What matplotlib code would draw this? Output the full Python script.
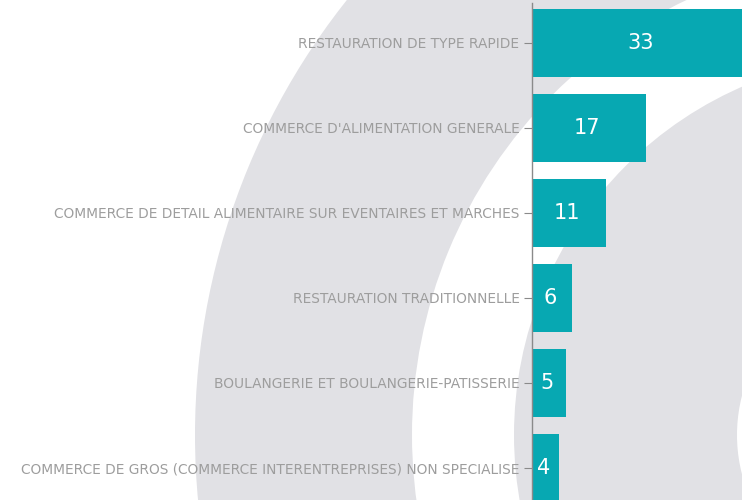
import numpy as np
import matplotlib
matplotlib.use("Agg")
import matplotlib.pyplot as plt
from matplotlib.patches import Wedge

# data
categories = [
    "RESTAURATION DE TYPE RAPIDE",
    "COMMERCE D'ALIMENTATION GENERALE",
    "COMMERCE DE DETAIL ALIMENTAIRE SUR EVENTAIRES ET MARCHES",
    "RESTAURATION TRADITIONNELLE",
    "BOULANGERIE ET BOULANGERIE-PATISSERIE",
    "COMMERCE DE GROS (COMMERCE INTERENTREPRISES) NON SPECIALISE",
]
counts = [33, 17, 11, 6, 5, 4]

W, H = 742, 500
fig = plt.figure(figsize=(W / 100, H / 100), dpi=100)
fig.patch.set_facecolor("white")

# decorative background rings (pixel coords)
bg = fig.add_axes([0, 0, 1, 1], zorder=0)
bg.set_xlim(0, W)
bg.set_ylim(0, H)
bg.axis("off")
ring_col = "#e1e1e5"
cx, cy = 894, H - 435
bg.add_patch(Wedge((cx, cy), 699, 0, 360, width=699 - 482, color=ring_col, lw=0))
bg.add_patch(Wedge((cx, cy), 380, 0, 360, width=380 - 157, color=ring_col, lw=0))

# bar chart
px_x = 6.7   # pixels per unit
px_y = 85.0  # pixels per category
x0 = 532
xmax = 33
ytop, ybot = -0.47, 5.5
top_px = 3
ax_w = xmax * px_x
ax_h = (ybot - ytop) * px_y
ax = fig.add_axes([x0 / W, (H - top_px - ax_h) / H, ax_w / W, ax_h / H], zorder=1)
ax.patch.set_alpha(0)

y = np.arange(len(categories))
ax.barh(y, counts, height=0.79, color="#07a8b2")
ax.set_xlim(0, xmax)
ax.set_ylim(ybot, ytop)

for yi, v in zip(y, counts):
    ax.text(v / 2 - 0.3, yi, str(v), color="white", fontsize=15,
            ha="center", va="center")

ax.set_yticks(y)
ax.set_yticklabels(categories, fontsize=9.9, color="#9d9d9d")
ax.tick_params(axis="y", length=6, color="#8a8a8a", pad=3)
ax.set_xticks([])
for s in ["top", "right", "bottom"]:
    ax.spines[s].set_visible(False)
ax.spines["left"].set_color("#8a8a8a")
ax.spines["left"].set_linewidth(1)

fig.savefig("out.png", dpi=100)
